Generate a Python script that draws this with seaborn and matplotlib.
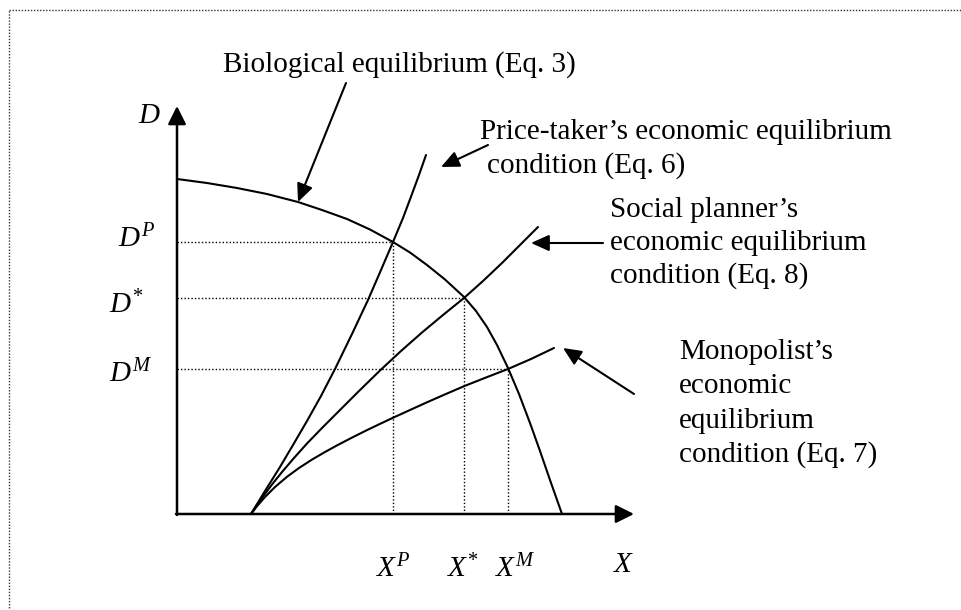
import numpy as np
import pandas as pd
import matplotlib.pyplot as plt
import seaborn as sns
from matplotlib.patches import ArrowStyle

sns.set_style('white')
plt.rcParams['font.family'] = ['Liberation Serif', 'DejaVu Serif']
plt.rcParams['text.color'] = 'black'
plt.rcParams['mathtext.fontset'] = 'custom'
plt.rcParams['mathtext.rm'] = 'Liberation Serif'
plt.rcParams['mathtext.it'] = 'Liberation Serif:italic'

# curves (X, D) in diagram units, origin at the axis corner
bio_x = [0, 30, 60, 90, 121, 145, 170, 193, 216, 233, 250, 268, 287, 299, 310, 320, 331, 342, 353, 363, 373, 379, 385]
bio_y = [335, 331, 326, 320, 312, 304, 295, 284.5, 272, 261.5, 249, 234.5, 217, 203, 187, 169, 146, 120, 91, 63, 34, 17, 0]

price_x = [74, 88, 103, 116, 130, 144, 158, 175, 191, 204, 216, 226, 235, 242, 249]
price_y = [0, 23, 47, 69, 93, 118, 145, 180, 214, 244, 272, 296, 320, 339, 359]

social_x = [74, 80, 86, 95, 105, 117, 130, 145, 160, 181, 203, 224, 245, 266, 287, 306, 325, 343, 361]
social_y = [0, 9, 17.5, 29.5, 42, 56, 70.5, 86, 101, 122, 143.5, 163, 181.5, 199, 216, 233, 251, 269, 287]

mono_x = [74, 80, 88, 98, 110, 122, 135, 148, 160, 175, 190, 203, 217, 233, 250, 268, 287, 309, 331, 354, 377]
mono_y = [0, 7.8, 17, 27, 37.2, 46, 54.4, 62, 68.6, 76.4, 83.9, 90.1, 96.7, 104, 111.7, 119.6, 127.8, 136.5, 145, 155, 166]

# equilibrium points: price-taker, social planner, monopolist
eq_x = [216, 287, 331]
eq_y = [272, 216, 145]
eq_xlabels = [r'$X^{P}$', r'$X^{*}$', r'$X^{M}$']
eq_ylabels = [r'$D^{P}$', r'$D^{*}$', r'$D^{M}$']

FS = 21


def draw():
    fig = plt.figure(figsize=(9.62, 6.10), dpi=100)
    ax = fig.add_axes([0, 0, 1, 1])
    ax.set_xlim(-177, 785)
    ax.set_ylim(-96, 514)
    ax.axis('off')

    # dotted frame
    ax.plot([-168, -168], [-120, 504], color='#333333', lw=1.0, ls=(0, (1, 1.2)))
    ax.plot([-168, 800], [504, 504], color='#333333', lw=1.0, ls=(0, (1, 1.2)))

    # guide lines
    ax.hlines(eq_y, 0, eq_x, color='black', lw=1.0, ls=(0, (1, 1.5)))
    ax.vlines(eq_x, 0, eq_y, color='black', lw=1.0, ls=(0, (1, 1.5)))

    # curves
    for xs, ys in [(bio_x, bio_y), (price_x, price_y), (social_x, social_y), (mono_x, mono_y)]:
        sns.lineplot(x=xs, y=ys, sort=False, color='black', lw=1.5, ax=ax)

    # axes with arrow heads
    axis_style = ArrowStyle('-|>', head_length=1.0, head_width=0.5)
    ax.annotate('', xy=(0, 408), xytext=(0, -1),
                arrowprops=dict(arrowstyle=axis_style, mutation_scale=11, color='black', lw=1.8,
                                shrinkA=0, shrinkB=0))
    ax.annotate('', xy=(457, 0), xytext=(-1, 0),
                arrowprops=dict(arrowstyle=axis_style, mutation_scale=11, color='black', lw=1.8,
                                shrinkA=0, shrinkB=0))

    # axis labels
    ax.text(-39, 391, r'$D$', fontsize=FS, va='baseline', ha='left')
    ax.text(436, -58, r'$X$', fontsize=FS, va='baseline', ha='left')
    for lab, x, y in zip(eq_ylabels, [-59, -68, -68], [267, 201, 132]):
        ax.text(x, y, lab, fontsize=FS, va='baseline', ha='left')
    for lab, x in zip(eq_xlabels, [199, 270, 318]):
        ax.text(x, -63, lab, fontsize=FS, va='baseline', ha='left')

    # annotations
    ax.text(46, 442, 'Biological equilibrium (Eq. 3)', fontsize=FS, va='baseline')
    ax.text(303, 375, 'Price-taker\u2019s economic equilibrium', fontsize=FS, va='baseline')
    ax.text(310, 341, 'condition (Eq. 6)', fontsize=FS, va='baseline')
    for s, y in zip(['Social planner\u2019s', 'economic equilibrium', 'condition (Eq. 8)'],
                    [297, 264, 231]):
        ax.text(433, y, s, fontsize=FS, va='baseline')
    for s, y in zip(['Monopolist\u2019s', 'economic', 'equilibrium', 'condition (Eq. 7)'],
                    [155, 121, 86, 52]):
        ax.text(502, y, s, fontsize=FS, va='baseline')

    pointer = ArrowStyle('-|>', head_length=1.0, head_width=0.45)
    arrows = [((169, 431), (121, 312)),
              ((311, 369), (264, 347)),
              ((426, 271), (354, 271)),
              ((457, 120), (386, 166))]
    for start, tip in arrows:
        ax.annotate('', xy=tip, xytext=start,
                    arrowprops=dict(arrowstyle=pointer, mutation_scale=11, color='black', lw=1.5,
                                    shrinkA=0, shrinkB=0))

    fig.savefig('out.png', dpi=100)


if __name__ == '__main__':
    draw()
